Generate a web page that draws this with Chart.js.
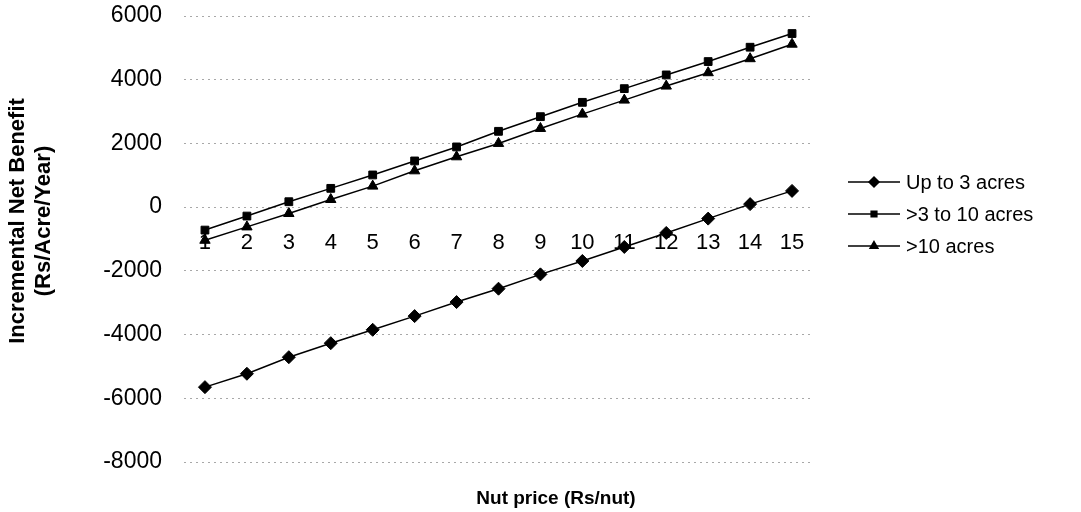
<!DOCTYPE html>
<html>
<head>
<meta charset="utf-8">
<script src="https://cdn.jsdelivr.net/npm/chart.js@4/dist/chart.umd.min.js"></script>
<style>
html, body { margin: 0; padding: 0; background: #fff; }
#wrap { width: 1081px; height: 512px; }
</style>
</head>
<body>
<div id="wrap"><canvas id="chart"></canvas></div>
<script>
// nut price (Rs/nut)
var prices = ['1','2','3','4','5','6','7','8','9','10','11','12','13','14','15'];

// incremental net benefit (Rs/Acre/Year)
var upTo3 = [-5650,-5230,-4710,-4270,-3850,-3420,-2980,-2560,-2110,-1690,-1250,-810,-360,95,510];
var from3to10 = [-720,-280,170,590,1010,1450,1890,2380,2840,3290,3720,4150,4570,5020,5450];
var above10 = [-1040,-620,-200,240,660,1140,1580,2000,2470,2920,3360,3800,4220,4660,5115];

var seriesNames = ['Up to 3 acres', '>3 to 10 acres', '>10 acres'];
var yTicks = [-8000,-6000,-4000,-2000,0,2000,4000,6000];

var xTitle = 'Nut price (Rs/nut)';
var yTitle = ['Incremental Net Benefit', '(Rs/Acre/Year)'];

var FONT = '"Liberation Sans", Arial, sans-serif';

function series(label, values, style, radius) {
    return {
        label: label,
        data: values,
        borderColor: '#000',
        backgroundColor: '#000',
        borderWidth: 1.5,
        pointStyle: style,
        pointRadius: radius,
        pointBackgroundColor: '#000',
        pointBorderColor: '#000',
        pointBorderWidth: 1,
        tension: 0,
        fill: false
    };
}

// titles and legend drawn by hand
var extras = {
    id: 'extras',
    afterDraw: function (chart) {
        var ctx = chart.ctx;
        ctx.save();
        ctx.fillStyle = '#000';
        ctx.textAlign = 'center';
        ctx.textBaseline = 'middle';

        ctx.font = 'bold 19px ' + FONT;
        ctx.fillText(xTitle, 556, 499);

        ctx.save();
        ctx.translate(31, 221);
        ctx.rotate(-Math.PI / 2);
        ctx.font = 'bold 22px ' + FONT;
        ctx.fillText(yTitle[0], 0, -13);
        ctx.fillText(yTitle[1], 0, 13);
        ctx.restore();

        // legend
        ctx.font = '20px ' + FONT;
        ctx.textAlign = 'left';
        var ds = chart.data.datasets;
        for (var i = 0; i < ds.length; i++) {
            var y = 182 + i * 32;
            ctx.strokeStyle = '#000';
            ctx.lineWidth = 1.5;
            ctx.beginPath();
            ctx.moveTo(848, y);
            ctx.lineTo(900, y);
            ctx.stroke();
            ctx.fillStyle = '#000';
            Chart.helpers.drawPoint(ctx, {
                pointStyle: ds[i].pointStyle,
                radius: ds[i].pointRadius - 1.5,
                rotation: 0,
                borderWidth: 1
            }, 874, y);
            ctx.fillStyle = '#000';
            ctx.fillText(ds[i].label, 906, y + 1);
        }
        ctx.restore();
    }
};

new Chart(document.getElementById('chart').getContext('2d'), {
    type: 'line',
    data: {
        labels: prices,
        datasets: [
            series(seriesNames[0], upTo3, 'rectRot', 6.5),
            series(seriesNames[1], from3to10, 'rect', 5.5),
            series(seriesNames[2], above10, 'triangle', 6)
        ]
    },
    options: {
        responsive: true,
        maintainAspectRatio: false,
        animation: false,
        layout: { padding: { left: 0, right: 268, top: 16, bottom: 50 } },
        plugins: {
            legend: { display: false },
            tooltip: { enabled: false }
        },
        scales: {
            x: {
                type: 'category',
                offset: true,
                position: { y: 0 },
                grid: { display: false, drawTicks: false },
                border: { display: false },
                ticks: {
                    color: '#000',
                    font: { family: FONT, size: 22 },
                    padding: 23,
                    maxRotation: 0,
                    autoSkip: false
                }
            },
            y: {
                min: -8000,
                max: 6000,
                afterFit: function (scale) {
                    scale.width = 184;
                    // tick padding otherwise pushes the plot top down
                    scale.paddingTop = 0;
                    scale.paddingBottom = 0;
                },
                afterBuildTicks: function (scale) {
                    scale.ticks = yTicks.map(function (v) { return { value: v }; });
                },
                grid: { color: '#a8a8a8', lineWidth: 1, drawTicks: false },
                border: { display: false, dash: [2, 4] },
                ticks: {
                    color: '#000',
                    font: { family: FONT, size: 23 },
                    padding: 22,
                    callback: function (v) { return String(v); }
                }
            }
        }
    },
    plugins: [extras]
});
</script>
</body>
</html>
